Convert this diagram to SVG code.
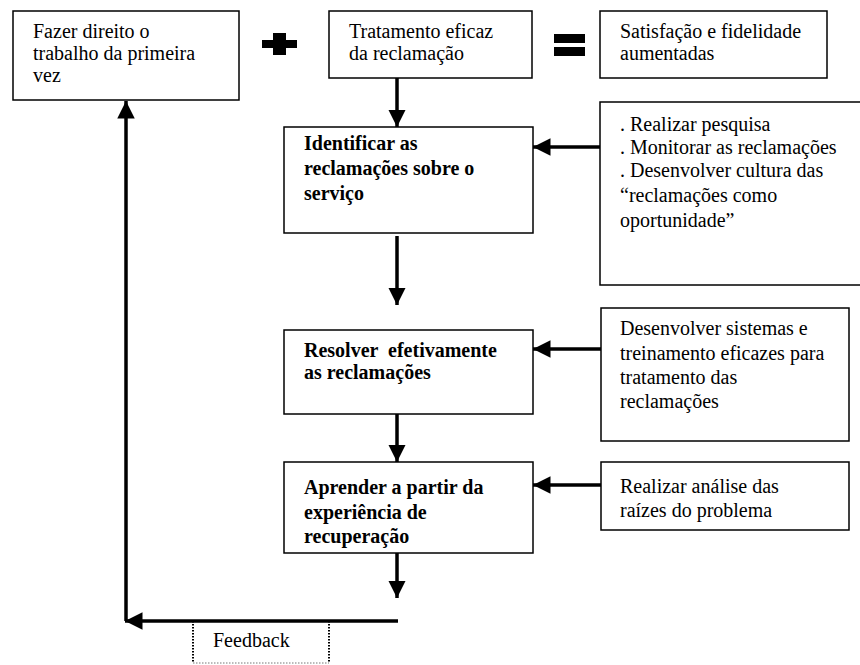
<svg xmlns="http://www.w3.org/2000/svg" width="860" height="665" viewBox="0 0 860 665">
<style>
text{font-family:"Liberation Serif","Times New Roman",serif;font-size:20px;fill:#000}
.b{font-weight:bold}
.box{fill:#fff;stroke:#000;stroke-width:1.5}
.ln{stroke:#000;stroke-width:3.5;fill:none}
.sym{fill:#000}
</style>
<defs>
<marker id="ah" viewBox="0 0 10 10" refX="10" refY="5" markerWidth="5" markerHeight="5" markerUnits="strokeWidth" orient="auto">
<path d="M0,0 L10,5 L0,10 z" fill="#000"/>
</marker>
</defs>
<rect width="860" height="665" fill="#fff"/>
<g id="n1"><rect class="box" x="13" y="11" width="226" height="89"/>
<text x="33" y="38">Fazer direito o</text><text x="33" y="60">trabalho da primeira</text><text x="33" y="82">vez</text></g>
<g id="plus"><rect class="sym" x="273" y="33" width="13" height="22"/><rect class="sym" x="262" y="40" width="35" height="8"/></g>
<g id="n2"><rect class="box" x="329" y="11" width="203" height="67"/>
<text x="349" y="38">Tratamento eficaz</text><text x="349" y="60">da reclamação</text></g>
<g id="eq"><rect class="sym" x="554" y="34" width="31" height="9"/><rect class="sym" x="554" y="47" width="31" height="9"/></g>
<g id="n3"><rect class="box" x="600" y="11" width="227" height="67"/>
<text x="620" y="38">Satisfação e fidelidade</text><text x="620" y="60">aumentadas</text></g>
<g id="n4"><rect class="box" x="284" y="127" width="249" height="106"/>
<text class="b" x="304" y="150">Identificar as</text><text class="b" x="304" y="175">reclamações sobre o</text><text class="b" x="304" y="200">serviço</text></g>
<g id="n5"><rect class="box" x="600" y="102" width="270" height="183"/>
<text x="620" y="131">. Realizar pesquisa</text><text x="620" y="154">. Monitorar as reclamações</text><text x="620" y="177">. Desenvolver cultura das</text><text x="620" y="202">“reclamações como</text><text x="620" y="227">oportunidade”</text></g>
<g id="n6"><rect class="box" x="284" y="330" width="249" height="84"/>
<text class="b" x="304" y="357" xml:space="preserve">Resolver  efetivamente</text><text class="b" x="304" y="379">as reclamações</text></g>
<g id="n7"><rect class="box" x="601" y="308" width="248" height="133"/>
<text x="620" y="335">Desenvolver sistemas e</text><text x="620" y="360">treinamento eficazes para</text><text x="620" y="384">tratamento das</text><text x="620" y="408">reclamações</text></g>
<g id="n8"><rect class="box" x="284" y="462" width="249" height="91"/>
<text class="b" x="304" y="494">Aprender a partir da</text><text class="b" x="304" y="519">experiência de</text><text class="b" x="304" y="543">recuperação</text></g>
<g id="n9"><rect class="box" x="601" y="462" width="248" height="68"/>
<text x="620" y="493">Realizar análise das</text><text x="620" y="517">raízes do problema</text></g>
<g id="feedback"><path d="M193,621 V663 M329,621 V663" stroke="#000" stroke-width="2" stroke-dasharray="1.5,1.5"/>
<path d="M193,663 H329" stroke="#777" stroke-width="1" stroke-dasharray="1.5,1.5"/>
<text x="213" y="647">Feedback</text></g>
<g id="connectors">
<path class="ln" d="M397,78 V127" marker-end="url(#ah)"/>
<path class="ln" d="M600,147 H533" marker-end="url(#ah)"/>
<path class="ln" d="M397,236 V305" marker-end="url(#ah)"/>
<path class="ln" d="M601,349 H533" marker-end="url(#ah)"/>
<path class="ln" d="M397,414 V462" marker-end="url(#ah)"/>
<path class="ln" d="M601,485 H533" marker-end="url(#ah)"/>
<path class="ln" d="M397,553 V598" marker-end="url(#ah)"/>
<path class="ln" d="M398,621 H125" marker-end="url(#ah)"/>
<path class="ln" d="M126,621 V101" marker-end="url(#ah)"/>
</g>
</svg>
